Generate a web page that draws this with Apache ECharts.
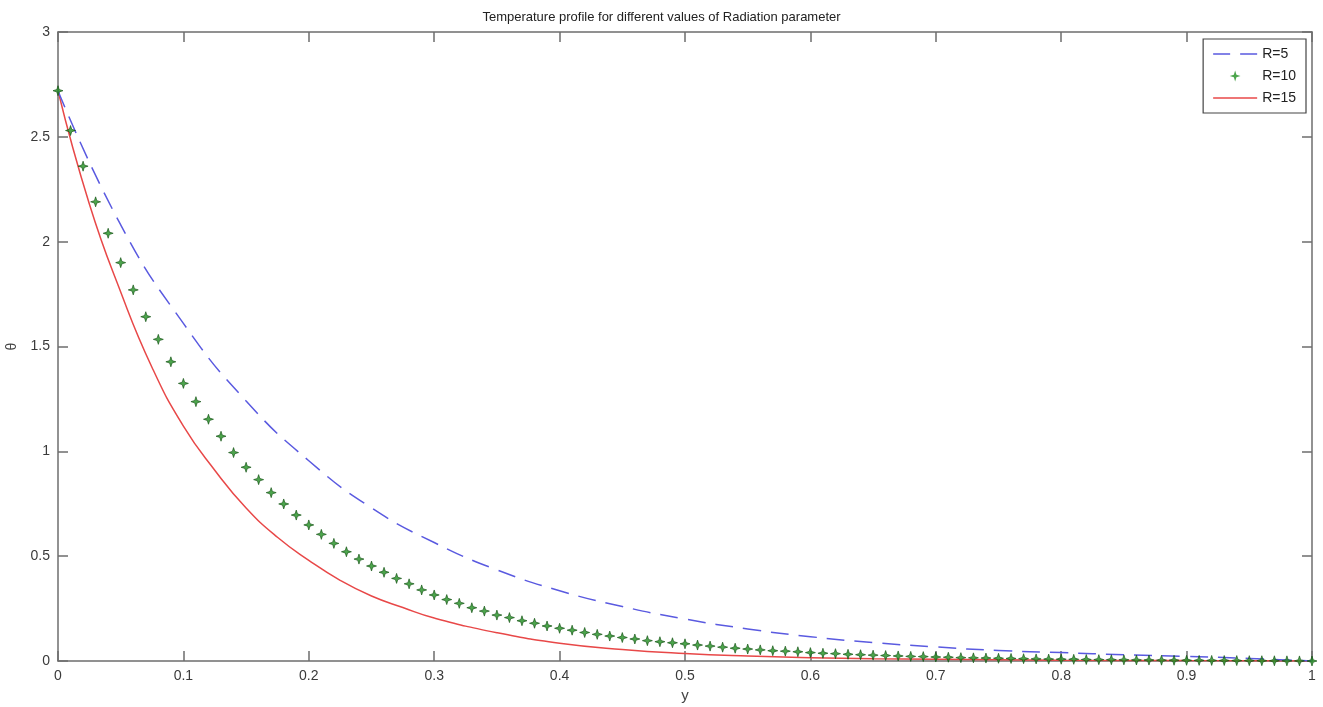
<!DOCTYPE html>
<html>
<head>
<meta charset="utf-8">
<script src="https://cdn.jsdelivr.net/npm/echarts@6/dist/echarts.min.js"></script>
<style>
  html, body { margin: 0; padding: 0; background: #fff; }
  #chart { width: 1323px; height: 707px; }
</style>
</head>
<body>
<div id="chart"></div>
<script>
// y positions sampled by the solver (0.01 step, used by the R=10 markers)
const gridY = [
  0, 0.01, 0.02, 0.03, 0.04, 0.05, 0.06, 0.07, 0.08, 0.09,
  0.1, 0.11, 0.12, 0.13, 0.14, 0.15, 0.16, 0.17, 0.18, 0.19,
  0.2, 0.21, 0.22, 0.23, 0.24, 0.25, 0.26, 0.27, 0.28, 0.29,
  0.3, 0.31, 0.32, 0.33, 0.34, 0.35, 0.36, 0.37, 0.38, 0.39,
  0.4, 0.41, 0.42, 0.43, 0.44, 0.45, 0.46, 0.47, 0.48, 0.49,
  0.5, 0.51, 0.52, 0.53, 0.54, 0.55, 0.56, 0.57, 0.58, 0.59,
  0.6, 0.61, 0.62, 0.63, 0.64, 0.65, 0.66, 0.67, 0.68, 0.69,
  0.7, 0.71, 0.72, 0.73, 0.74, 0.75, 0.76, 0.77, 0.78, 0.79,
  0.8, 0.81, 0.82, 0.83, 0.84, 0.85, 0.86, 0.87, 0.88, 0.89,
  0.9, 0.91, 0.92, 0.93, 0.94, 0.95, 0.96, 0.97, 0.98, 0.99, 1
]
const thetaR10 = [
  2.72, 2.53, 2.36, 2.19, 2.04, 1.90, 1.77, 1.642, 1.534, 1.427,
  1.324, 1.237, 1.153, 1.072, 0.994, 0.924, 0.865, 0.803, 0.749, 0.696,
  0.649, 0.604, 0.561, 0.521, 0.486, 0.453, 0.423, 0.394, 0.368, 0.339,
  0.315, 0.293, 0.275, 0.254, 0.238, 0.219, 0.207, 0.192, 0.180, 0.167,
  0.156, 0.147, 0.136, 0.127, 0.119, 0.112, 0.105, 0.097, 0.092, 0.087,
  0.082, 0.076, 0.071, 0.066, 0.061, 0.057, 0.053, 0.049, 0.047, 0.044,
  0.040, 0.037, 0.035, 0.032, 0.030, 0.028, 0.026, 0.024, 0.022, 0.021,
  0.019, 0.018, 0.016, 0.015, 0.014, 0.013, 0.012, 0.011, 0.010, 0.009,
  0.0085, 0.008, 0.007, 0.0065, 0.006, 0.0055, 0.005, 0.0045, 0.004, 0.0037,
  0.0033, 0.003, 0.0027, 0.0024, 0.002, 0.0017, 0.0014, 0.0011, 0.0008, 0.0004, 0
]

const yR5 = [0, 0.05, 0.1, 0.15, 0.2, 0.25, 0.3, 0.35, 0.4, 0.45, 0.5, 0.55, 0.6, 0.65, 0.7, 0.75, 0.8, 0.85, 0.9, 0.95, 1]
const thetaR5 = [2.72, 2.08, 1.61, 1.24, 0.955, 0.73, 0.565, 0.435, 0.335, 0.26, 0.2, 0.153, 0.116, 0.088, 0.067, 0.05, 0.04, 0.03, 0.022, 0.012, 0]

const yR15 = [0, 0.025, 0.05, 0.075, 0.1, 0.125, 0.15, 0.175, 0.2, 0.225, 0.25, 0.275, 0.3, 0.35, 0.4, 0.45, 0.5, 0.55, 0.6, 0.65, 0.7, 0.8, 0.9, 1]
const thetaR15 = [2.72, 2.18, 1.76, 1.40, 1.12, 0.91, 0.73, 0.59, 0.48, 0.385, 0.31, 0.255, 0.205, 0.135, 0.085, 0.055, 0.036, 0.024, 0.016, 0.011, 0.008, 0.004, 0.002, 0]

const xTicks = [0, 0.1, 0.2, 0.3, 0.4, 0.5, 0.6, 0.7, 0.8, 0.9, 1]
const yTicks = [0, 0.5, 1, 1.5, 2, 2.5, 3]

const pairs = (xs, vs) => xs.map((x, i) => [x, vs[i]])

const FONT = 'Liberation Sans, Arial, sans-serif'
const axisGray = '#6e6e6e'
const star = 'path://M0,-10 L2.4,-2.4 L10,0 L2.4,2.4 L0,10 L-2.4,2.4 L-10,0 L-2.4,-2.4 Z'
// legend samples: long-dash line, small star (padded box), solid line
const dashIcon = 'path://M0,0 H17 V1.6 H0 Z M27,0 H44 V1.6 H27 Z'
const starIcon = 'path://M0,-10 L2.4,-2.4 L10,0 L2.4,2.4 L0,10 L-2.4,2.4 L-10,0 L-2.4,-2.4 Z M-13,-13 h0.001 v0.001 Z M13,13 h0.001 v0.001 Z'
const solidIcon = 'path://M0,0 H44 V1.6 H0 Z'

const chart = echarts.init(document.getElementById('chart'))

const boxAxis = {
    type: 'value',
    axisLine: {show: true, onZero: false, lineStyle: {color: axisGray, width: 1.5}},
    axisTick: {show: true, inside: true, length: 10, lineStyle: {color: axisGray, width: 1.5}},
    splitLine: {show: false}
}

const option = {
    backgroundColor: '#fff',
    animation: false,
    title: {
        text: 'Temperature profile for different values of Radiation parameter',
        left: 'center',
        top: 6,
        textStyle: {fontFamily: FONT, fontSize: 13, fontWeight: 'normal', color: '#222'}
    },
    grid: {left: 58, right: 11, top: 32, bottom: 46, containLabel: false, outerBoundsMode: 'none'},
    legend: {
        orient: 'vertical',
        right: 17,
        top: 39,
        padding: [8, 10],
        itemGap: 8,
        itemWidth: 44,
        itemHeight: 14,
        symbolKeepAspect: true,
        borderColor: '#444',
        borderWidth: 1.2,
        backgroundColor: '#fff',
        textStyle: {fontFamily: FONT, fontSize: 14, color: '#222'},
        data: [
            {name: 'R=5', icon: dashIcon, itemStyle: {color: '#5a5ae0', borderWidth: 0}},
            {name: 'R=10', icon: starIcon, itemStyle: {color: '#1f8f1f', borderWidth: 0}},
            {name: 'R=15', icon: solidIcon, itemStyle: {color: '#e84848', borderWidth: 0}}
        ]
    },
    xAxis: [
        Object.assign({}, boxAxis, {
            position: 'bottom',
            min: xTicks[0],
            max: xTicks[xTicks.length - 1],
            interval: 0.1,
            name: 'y',
            nameLocation: 'middle',
            nameGap: 27,
            nameTextStyle: {fontFamily: FONT, fontSize: 15, color: '#444'},
            axisLabel: {fontFamily: FONT, fontSize: 14, color: '#3a3a3a', margin: 8}
        }),
        Object.assign({}, boxAxis, {
            position: 'top',
            min: xTicks[0],
            max: xTicks[xTicks.length - 1],
            interval: 0.1,
            axisLabel: {show: false}
        })
    ],
    yAxis: [
        Object.assign({}, boxAxis, {
            position: 'left',
            min: yTicks[0],
            max: yTicks[yTicks.length - 1],
            interval: 0.5,
            name: 'θ',
            nameLocation: 'middle',
            nameGap: 38,
            nameRotate: 90,
            nameTextStyle: {fontFamily: FONT, fontSize: 14, color: '#444'},
            axisLabel: {fontFamily: FONT, fontSize: 14, color: '#3a3a3a', margin: 8}
        }),
        Object.assign({}, boxAxis, {
            position: 'right',
            min: yTicks[0],
            max: yTicks[yTicks.length - 1],
            interval: 0.5,
            axisLabel: {show: false}
        })
    ],
    series: [
        {
            name: 'R=5',
            type: 'line',
            smooth: true,
            showSymbol: false,
            symbol: 'none',
            data: pairs(yR5, thetaR5),
            lineStyle: {color: '#5a5ae0', width: 1.5, type: [18, 10]},
            itemStyle: {color: '#5a5ae0'},
            z: 3
        },
        {
            name: 'R=10',
            type: 'scatter',
            symbol: star,
            symbolSize: 10,
            data: pairs(gridY, thetaR10),
            itemStyle: {color: '#1f8f1f', borderColor: '#0f4f0f', borderWidth: 0.8},
            z: 4
        },
        {
            name: 'R=15',
            type: 'line',
            smooth: true,
            showSymbol: false,
            symbol: 'none',
            data: pairs(yR15, thetaR15),
            lineStyle: {color: '#e84848', width: 1.5},
            itemStyle: {color: '#e84848'},
            z: 2
        }
    ]
}

chart.setOption(option)
</script>
</body>
</html>
